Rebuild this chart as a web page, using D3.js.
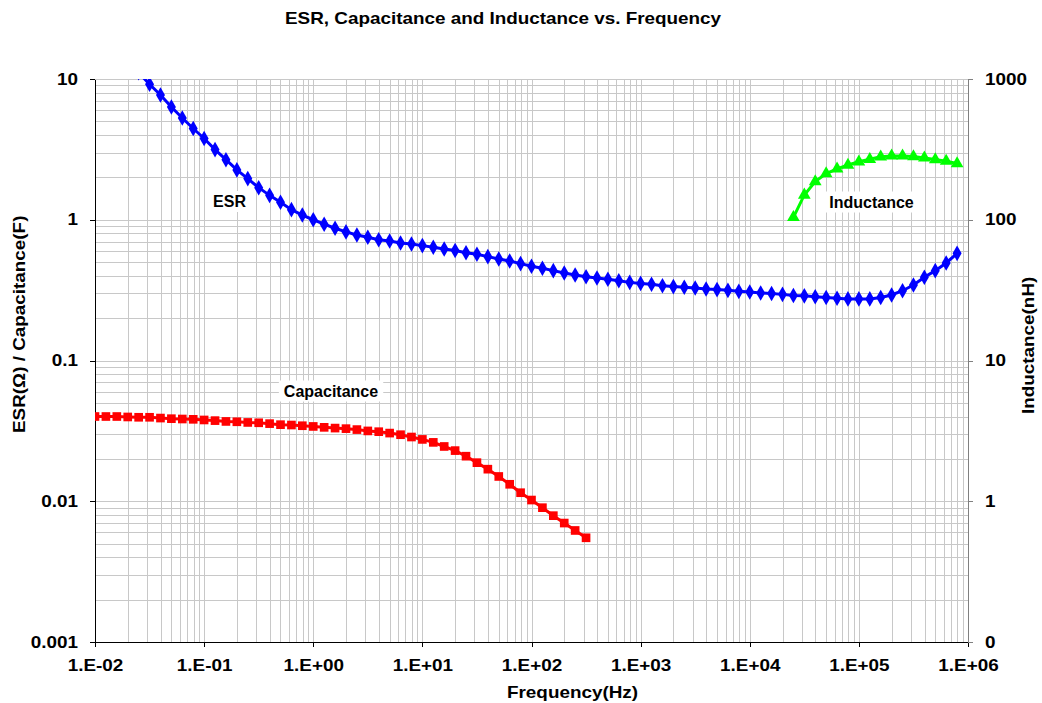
<!DOCTYPE html>
<html>
<head>
<meta charset="utf-8">
<script src="https://cdn.jsdelivr.net/npm/d3@7"></script>
<style>
  body { margin: 0; background: #fff; }
  text { font-family: "Liberation Sans", Arial, sans-serif; font-weight: bold; fill: #000; }
  .grid line { stroke: #c8c8c8; stroke-width: 1; shape-rendering: crispEdges; }
  .axis path, .axis line { shape-rendering: crispEdges; }
</style>
</head>
<body>
<svg id="chart" width="1042" height="703"></svg>
<script>
// frequency exponents (log10 Hz), 10 points per decade
const esrExp = [-1.6,-1.5,-1.4,-1.3,-1.2,-1.1,-1.0,-0.9,-0.8,-0.7,-0.6,-0.5,-0.4,-0.3,-0.2,-0.1,0.0,0.1,0.2,0.3,0.4,0.5,0.6,0.7,0.8,0.9,1.0,1.1,1.2,1.3,1.4,1.5,1.6,1.7,1.8,1.9,2.0,2.1,2.2,2.3,2.4,2.5,2.6,2.7,2.8,2.9,3.0,3.1,3.2,3.3,3.4,3.5,3.6,3.7,3.8,3.9,4.0,4.1,4.2,4.3,4.4,4.5,4.6,4.7,4.8,4.9,5.0,5.1,5.2,5.3,5.4,5.5,5.6,5.7,5.8,5.9];
const esrVal = [11.1,9.17,7.7,6.33,5.28,4.45,3.78,3.15,2.67,2.26,1.96,1.69,1.49,1.33,1.18,1.08,1.0,0.93,0.87,0.82,0.78,0.75,0.72,0.706,0.684,0.673,0.655,0.637,0.62,0.605,0.583,0.568,0.547,0.526,0.509,0.488,0.467,0.452,0.435,0.419,0.405,0.394,0.386,0.378,0.369,0.359,0.353,0.348,0.34,0.335,0.331,0.327,0.322,0.319,0.315,0.31,0.307,0.302,0.299,0.295,0.29,0.288,0.284,0.28,0.277,0.274,0.274,0.274,0.28,0.292,0.313,0.344,0.39,0.435,0.493,0.577];

const capExp = [-2.0,-1.9,-1.8,-1.7,-1.6,-1.5,-1.4,-1.3,-1.2,-1.1,-1.0,-0.9,-0.8,-0.7,-0.6,-0.5,-0.4,-0.3,-0.2,-0.1,0.0,0.1,0.2,0.3,0.4,0.5,0.6,0.7,0.8,0.9,1.0,1.1,1.2,1.3,1.4,1.5,1.6,1.7,1.8,1.9,2.0,2.1,2.2,2.3,2.4,2.5];
const capVal = [0.040,0.040,0.040,0.0397,0.0395,0.0395,0.039,0.0386,0.0384,0.0382,0.0378,0.0374,0.0369,0.0367,0.0363,0.0361,0.0356,0.035,0.0348,0.0344,0.034,0.0335,0.0331,0.0328,0.0323,0.0316,0.0312,0.0305,0.0297,0.0286,0.0275,0.0262,0.0245,0.0229,0.0209,0.0188,0.0169,0.015,0.0132,0.0115,0.0102,0.0090,0.0079,0.0070,0.0062,0.0055];

const indExp = [4.4,4.5,4.6,4.7,4.8,4.9,5.0,5.1,5.2,5.3,5.4,5.5,5.6,5.7,5.8,5.9];
const indVal = [104,150,187,213,230,245,258,269,280,284,284,281,275,268,261,251];

const xTicks = [1e-2,1e-1,1e0,1e1,1e2,1e3,1e4,1e5,1e6];
const xTickLabels = ["1.E-02","1.E-01","1.E+00","1.E+01","1.E+02","1.E+03","1.E+04","1.E+05","1.E+06"];
const yLeftTicks = [0.001,0.01,0.1,1,10];
const yLeftLabels = ["0.001","0.01","0.1","1","10"];
const yRightTicks = [0.1,1,10,100,1000];
const yRightLabels = ["0","1","10","100","1000"];

const L = 95, R = 968, T = 79, B = 642;
const SX = 1.18; // axis text is drawn a little wide in the original
const svg = d3.select("#chart");

const x = d3.scaleLog().domain([1e-2, 1e6]).range([L, R]);
const yL = d3.scaleLog().domain([0.001, 10]).range([B, T]);
const yR = d3.scaleLog().domain([0.1, 1000]).range([B, T]);

const toPts = (ex, vals) => ex.map((e, i) => ({ f: Math.pow(10, e), v: vals[i] }));
const esr = toPts(esrExp, esrVal);
const cap = toPts(capExp, capVal);
const ind = toPts(indExp, indVal);

// gridlines
const grid = svg.append("g").attr("class", "grid");
grid.selectAll("line.gx").data(x.ticks()).join("line").attr("class", "gx")
  .attr("x1", d => Math.round(x(d)) + 0.5).attr("x2", d => Math.round(x(d)) + 0.5)
  .attr("y1", T).attr("y2", B);
grid.selectAll("line.gy").data(yL.ticks()).join("line").attr("class", "gy")
  .attr("x1", L).attr("x2", R)
  .attr("y1", d => Math.round(yL(d)) + 0.5).attr("y2", d => Math.round(yL(d)) + 0.5);

svg.append("clipPath").attr("id", "plotclip").append("rect")
  .attr("x", L).attr("y", T).attr("width", R - L).attr("height", B - T);

// axes
svg.append("g").attr("class", "axis").attr("transform", `translate(0,${B})`)
  .call(d3.axisBottom(x).tickValues(xTicks).tickSize(5).tickSizeOuter(0)
    .tickFormat((d, i) => xTickLabels[i]))
  .call(g => g.selectAll("line, path").attr("stroke", "#000"))
  .call(g => g.selectAll("text").attr("dy", null).attr("y", 29.5)
    .attr("transform", `scale(${SX},1)`).style("font-size", "16px"));

svg.append("g").attr("class", "axis").attr("transform", `translate(${L},0)`)
  .call(d3.axisLeft(yL).tickValues(yLeftTicks).tickSize(5).tickSizeOuter(0)
    .tickFormat((d, i) => yLeftLabels[i]))
  .call(g => g.selectAll("line, path").attr("stroke", "#000"))
  .call(g => g.selectAll("text").attr("x", -17 / SX)
    .attr("transform", `scale(${SX},1)`).style("font-size", "16px"));

svg.append("g").attr("class", "axis").attr("transform", `translate(${R},0)`)
  .call(d3.axisRight(yR).tickValues(yRightTicks).tickSize(5).tickSizeOuter(0)
    .tickFormat((d, i) => yRightLabels[i]))
  .call(g => g.selectAll("line, path").attr("stroke", "#808080"))
  .call(g => g.selectAll("text").attr("x", 17 / SX)
    .attr("transform", `scale(${SX},1)`).style("font-size", "16px"));

// series
const plot = svg.append("g").attr("clip-path", "url(#plotclip)");

function drawSeries(data, yScale, color, symType, symSize) {
  const line = d3.line().x(d => x(d.f)).y(d => yScale(d.v));
  plot.append("path").datum(data).attr("d", line)
    .attr("fill", "none").attr("stroke", color).attr("stroke-width", 3);
  const sym = d3.symbol().type(symType).size(symSize);
  plot.selectAll(null).data(data).join("path")
    .attr("transform", d => `translate(${x(d.f)},${yScale(d.v)})`)
    .attr("d", sym()).attr("fill", color);
}
drawSeries(esr, yL, "#0000ff", d3.symbolDiamond, 70);
drawSeries(cap, yL, "#ff0000", d3.symbolSquare, 75);
drawSeries(ind, yR, "#00ff00", d3.symbolTriangle, 70);

// data labels with white boxes
function boxLabel(txt, cx, baseline) {
  const g = svg.append("g");
  const t = g.append("text").attr("x", cx).attr("y", baseline).attr("text-anchor", "middle")
    .style("font-size", "16px").text(txt);
  const bb = t.node().getBBox();
  g.insert("rect", "text").attr("x", bb.x - 5).attr("y", bb.y - 2)
    .attr("width", bb.width + 10).attr("height", bb.height + 4).attr("fill", "#fff");
}
boxLabel("ESR", 229.5, 207);
boxLabel("Capacitance", 331, 396.5);
boxLabel("Inductance", 871.5, 207.5);

// titles
svg.append("text").attr("transform", `translate(285,23.5) scale(${SX},1)`)
  .style("font-size", "16px").text("ESR, Capacitance and Inductance vs. Frequency");
svg.append("text").attr("transform", `translate(507,698) scale(${SX},1)`)
  .style("font-size", "16px").text("Frequency(Hz)");
svg.append("text").attr("transform", `translate(24.5,433) rotate(-90) scale(${SX},1)`)
  .style("font-size", "16px").text("ESR(Ω) / Capacitance(F)");
svg.append("text").attr("transform", `translate(1034,414) rotate(-90) scale(${SX},1)`)
  .style("font-size", "16px").text("Inductance(nH)");
</script>
</body>
</html>
